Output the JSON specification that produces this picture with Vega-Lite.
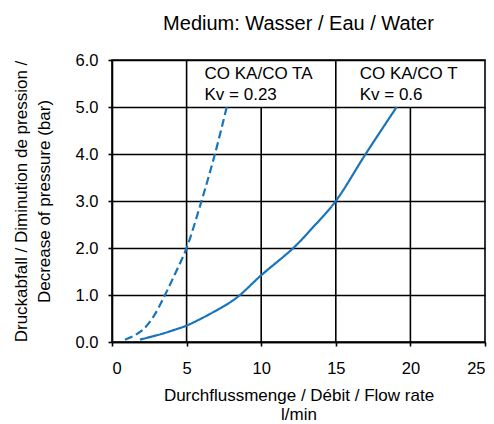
{
  "$schema": "https://vega.github.io/schema/vega-lite/v6.json",
  "width": 373,
  "height": 282,
  "autosize": "none",
  "padding": {"left": 112, "top": 60, "right": 9, "bottom": 82},
  "background": "white",
  "title": {
    "text": "Medium: Wasser / Eau / Water",
    "font": "Liberation Sans",
    "fontSize": 20,
    "fontWeight": "normal",
    "color": "black",
    "anchor": "middle",
    "offset": 18
  },
  "config": {
    "view": {"stroke": "black", "strokeWidth": 1.6},
    "axis": {
      "labelFont": "Liberation Sans",
      "labelFontSize": 16.5,
      "labelColor": "black",
      "titleFont": "Liberation Sans",
      "titleFontSize": 17,
      "titleFontWeight": "normal",
      "titleColor": "black",
      "domainColor": "black",
      "domainWidth": 1.6,
      "tickColor": "black",
      "tickWidth": 1.6,
      "tickSize": 4
    }
  },
  "datasets": {
    "grid": [
      {"x": 5, "y0": 0, "y1": 6},
      {"x": 10, "y0": 0, "y1": 5},
      {"x": 15, "y0": 0, "y1": 6},
      {"x": 20, "y0": 0, "y1": 5}
    ],
    "curves": [
      {"series": "Kv 0.23", "q": 0.87, "dp": 0.05},
      {"series": "Kv 0.23", "q": 1.5, "dp": 0.14},
      {"series": "Kv 0.23", "q": 2.1, "dp": 0.27},
      {"series": "Kv 0.23", "q": 2.8, "dp": 0.55},
      {"series": "Kv 0.23", "q": 3.55, "dp": 1.0},
      {"series": "Kv 0.23", "q": 4.3, "dp": 1.5},
      {"series": "Kv 0.23", "q": 5.0, "dp": 2.0},
      {"series": "Kv 0.23", "q": 6.0, "dp": 3.0},
      {"series": "Kv 0.23", "q": 6.9, "dp": 4.0},
      {"series": "Kv 0.23", "q": 7.69, "dp": 5.0},
      {"series": "Kv 0.6", "q": 1.88, "dp": 0.05},
      {"series": "Kv 0.6", "q": 3.3, "dp": 0.17},
      {"series": "Kv 0.6", "q": 4.2, "dp": 0.26},
      {"series": "Kv 0.6", "q": 5.0, "dp": 0.35},
      {"series": "Kv 0.6", "q": 6.7, "dp": 0.62},
      {"series": "Kv 0.6", "q": 8.3, "dp": 0.93},
      {"series": "Kv 0.6", "q": 10.0, "dp": 1.42},
      {"series": "Kv 0.6", "q": 12.15, "dp": 2.0},
      {"series": "Kv 0.6", "q": 13.5, "dp": 2.45},
      {"series": "Kv 0.6", "q": 15.0, "dp": 3.0},
      {"series": "Kv 0.6", "q": 17.0, "dp": 4.0},
      {"series": "Kv 0.6", "q": 19.08, "dp": 5.0}
    ],
    "labels": [
      {"label": "CO KA/CO TA", "x": 6.2, "y": 5.6},
      {"label": "Kv = 0.23", "x": 6.2, "y": 5.15},
      {"label": "CO KA/CO T", "x": 16.6, "y": 5.6},
      {"label": "Kv = 0.6", "x": 16.6, "y": 5.15}
    ]
  },
  "layer": [
    {
      "data": {"name": "grid"},
      "mark": {"type": "rule", "color": "black", "strokeWidth": 1.6},
      "encoding": {
        "x": {
          "field": "x", "type": "quantitative",
          "scale": {"domain": [0, 25], "nice": false},
          "axis": {
            "values": [0, 5, 10, 15, 20, 25],
            "grid": false,
            "labelPadding": 14,
            "title": ["Durchflussmenge / Débit / Flow rate", "l/min"],
            "titlePadding": 11,
            "titleLineHeight": 19
          }
        },
        "y": {
          "field": "y0", "type": "quantitative",
          "scale": {"domain": [0, 6], "nice": false},
          "axis": {
            "values": [0, 1, 2, 3, 4, 5, 6],
            "format": ".1f",
            "grid": true,
            "gridColor": "black",
            "gridWidth": 1.6,
            "gridOpacity": 1,
            "labelPadding": 10,
            "title": ["Druckabfall / Diminution de pression /", "Decrease of pressure (bar)"],
            "titlePadding": 22,
            "titleLineHeight": 23
          }
        },
        "y2": {"field": "y1"}
      }
    },
    {
      "data": {"name": "curves"},
      "mark": {"type": "line", "color": "#1874bb", "strokeWidth": 2.2, "interpolate": "catmull-rom"},
      "encoding": {
        "x": {"field": "q", "type": "quantitative"},
        "y": {"field": "dp", "type": "quantitative"},
        "detail": {"field": "series"},
        "strokeDash": {
          "field": "series", "type": "nominal",
          "scale": {"domain": ["Kv 0.23", "Kv 0.6"], "range": [[8, 4], [1, 0]]},
          "legend": null
        }
      }
    },
    {
      "data": {"name": "labels"},
      "mark": {"type": "text", "align": "left", "baseline": "alphabetic", "font": "Liberation Sans", "fontSize": 17, "color": "black"},
      "encoding": {
        "x": {"field": "x", "type": "quantitative"},
        "y": {"field": "y", "type": "quantitative"},
        "text": {"field": "label"}
      }
    }
  ]
}
